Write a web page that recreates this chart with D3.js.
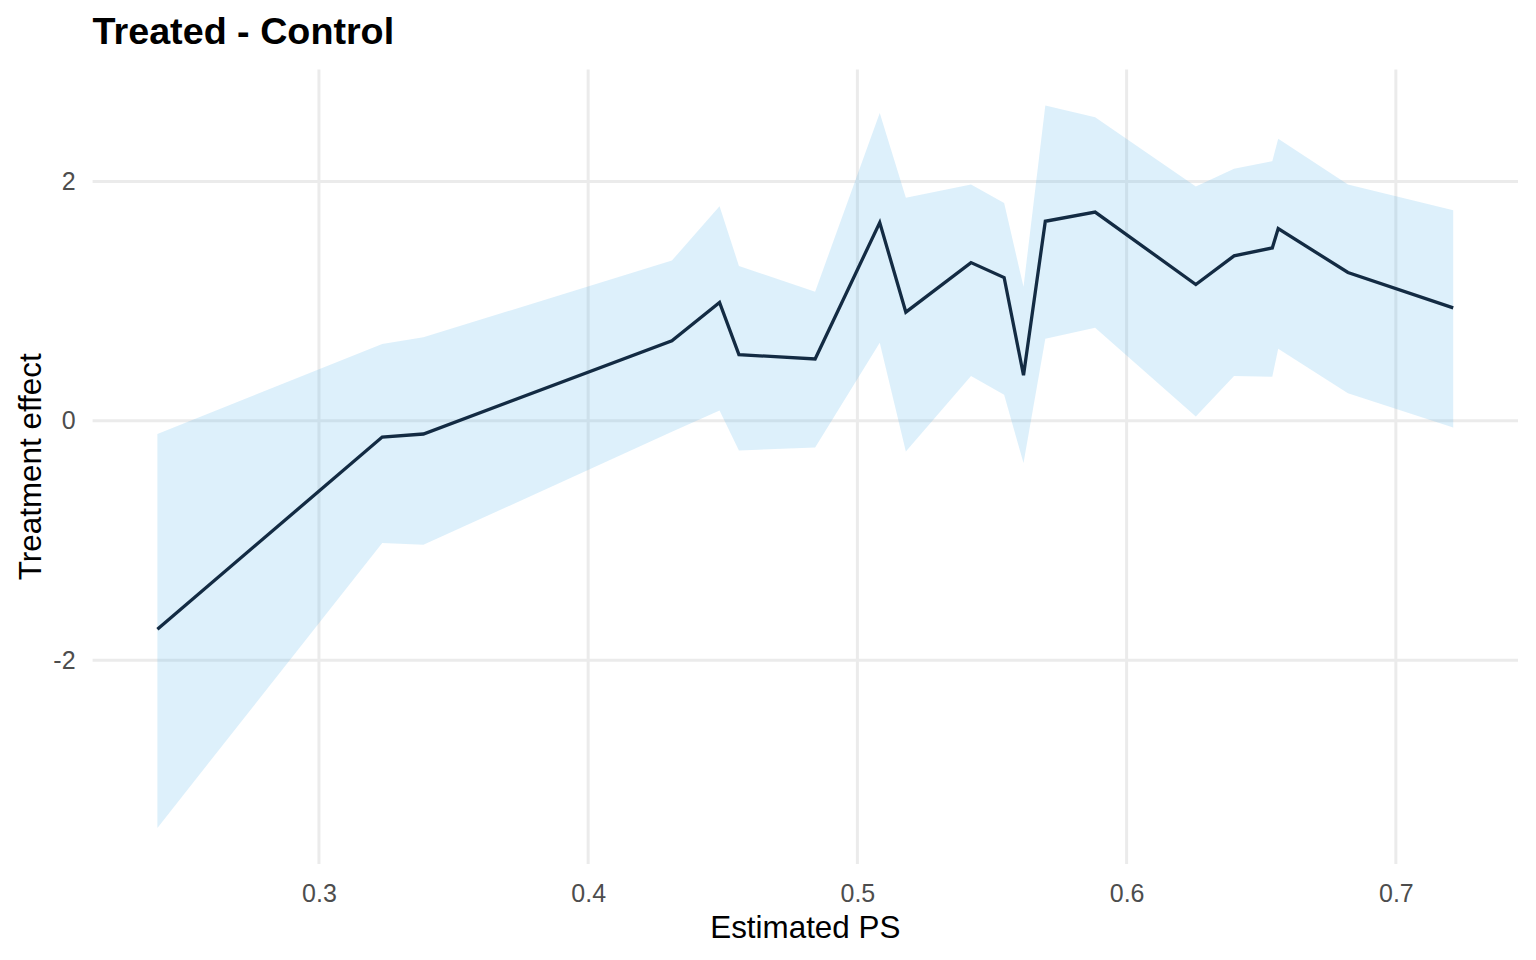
<!DOCTYPE html>
<html>
<head>
<meta charset="utf-8">
<script src="https://cdn.jsdelivr.net/npm/d3@7"></script>
<style>
  body { margin: 0; background: #fff; }
  text { font-family: "Liberation Sans", Arial, sans-serif; }
</style>
</head>
<body>
<svg id="chart" width="1536" height="960"></svg>
<script>
// estimated propensity score at each point
var ps = [0.240, 0.3235, 0.3388, 0.4311, 0.4488, 0.4560, 0.4843, 0.5083, 0.5180, 0.5422,
          0.5545, 0.5617, 0.5698, 0.5883, 0.6257, 0.6399, 0.6541, 0.6563, 0.6822, 0.7213];
// treatment effect estimate
var effect = [-1.74, -0.136, -0.11, 0.669, 0.989, 0.553, 0.517, 1.656, 0.908, 1.322,
              1.197, 0.381, 1.667, 1.744, 1.139, 1.378, 1.444, 1.606, 1.239, 0.944];
// ribbon bounds
var upper = [-0.11, 0.642, 0.698, 1.339, 1.792, 1.294, 1.078, 2.572, 1.864, 1.975,
             1.819, 1.119, 2.633, 2.536, 1.958, 2.106, 2.169, 2.356, 1.975, 1.758];
var lower = [-3.40, -1.02, -1.036, -0.092, 0.086, -0.247, -0.222, 0.653, -0.256, 0.375,
             0.217, -0.353, 0.686, 0.778, 0.036, 0.375, 0.369, 0.603, 0.231, -0.056];

var xTicks = [0.3, 0.4, 0.5, 0.6, 0.7];
var yTicks = [-2, 0, 2];

var data = ps.map(function(d, i){
  return {x: d, y: effect[i], lo: lower[i], hi: upper[i]};
});

var margin = {top: 69.5, right: 18, bottom: 96, left: 92.6},
    W = 1536, H = 960,
    width = W - margin.left - margin.right,
    height = H - margin.top - margin.bottom;

// ggplot style 5% expansion
function expand(lo, hi){
  var r = hi - lo;
  return [lo - r * 0.05, hi + r * 0.05];
}

var x = d3.scaleLinear()
    .domain(expand(d3.min(ps), d3.max(ps)))
    .range([0, width]);

var y = d3.scaleLinear()
    .domain(expand(d3.min(lower), d3.max(upper)))
    .range([height, 0]);

var svg = d3.select("#chart");
var g = svg.append("g")
    .attr("transform", "translate(" + margin.left + "," + margin.top + ")");

// grid
g.append("g").selectAll("line")
  .data(xTicks).enter().append("line")
    .attr("x1", function(d){ return x(d); })
    .attr("x2", function(d){ return x(d); })
    .attr("y1", 0).attr("y2", height)
    .attr("stroke", "#EBEBEB").attr("stroke-width", 3);

g.append("g").selectAll("line")
  .data(yTicks).enter().append("line")
    .attr("x1", 0).attr("x2", width)
    .attr("y1", function(d){ return y(d); })
    .attr("y2", function(d){ return y(d); })
    .attr("stroke", "#EBEBEB").attr("stroke-width", 3);

// ribbon
var area = d3.area()
    .x(function(d){ return x(d.x); })
    .y0(function(d){ return y(d.lo); })
    .y1(function(d){ return y(d.hi); });

g.append("path")
    .datum(data)
    .attr("d", area)
    .attr("fill", "#56B4E9")
    .attr("fill-opacity", 0.2);

// estimate line
var line = d3.line()
    .x(function(d){ return x(d.x); })
    .y(function(d){ return y(d.y); });

g.append("path")
    .datum(data)
    .attr("d", line)
    .attr("fill", "none")
    .attr("stroke", "#132B43")
    .attr("stroke-width", 3.3)
    .attr("stroke-linejoin", "miter");

// axes (labels only, theme_minimal)
var xAxis = d3.axisBottom(x)
    .tickValues(xTicks)
    .tickFormat(d3.format(".1f"))
    .tickSize(0)
    .tickPadding(20);

var yAxis = d3.axisLeft(y)
    .tickValues(yTicks)
    .tickFormat(function(d){ return d < 0 ? "-" + Math.abs(d) : d; })
    .tickSize(0)
    .tickPadding(17);

g.append("g")
    .attr("transform", "translate(0," + height + ")")
    .call(xAxis)
    .call(function(a){ a.select(".domain").remove(); })
    .selectAll("text")
      .attr("font-family", "Liberation Sans, Arial, sans-serif")
      .attr("font-size", 25)
      .attr("fill", "#4D4D4D");

g.append("g")
    .call(yAxis)
    .call(function(a){ a.select(".domain").remove(); })
    .selectAll("text")
      .attr("font-family", "Liberation Sans, Arial, sans-serif")
      .attr("font-size", 25)
      .attr("fill", "#4D4D4D");

// titles
svg.append("text")
    .attr("x", margin.left)
    .attr("y", 44)
    .attr("font-size", 37.7)
    .attr("font-weight", "bold")
    .attr("fill", "#000")
    .text("Treated - Control");

svg.append("text")
    .attr("x", margin.left + width / 2)
    .attr("y", 938)
    .attr("text-anchor", "middle")
    .attr("font-size", 31.4)
    .attr("fill", "#000")
    .text("Estimated PS");

svg.append("text")
    .attr("transform", "translate(41," + (margin.top + height / 2) + ") rotate(-90)")
    .attr("text-anchor", "middle")
    .attr("font-size", 31.4)
    .attr("fill", "#000")
    .text("Treatment effect");
</script>
</body>
</html>
